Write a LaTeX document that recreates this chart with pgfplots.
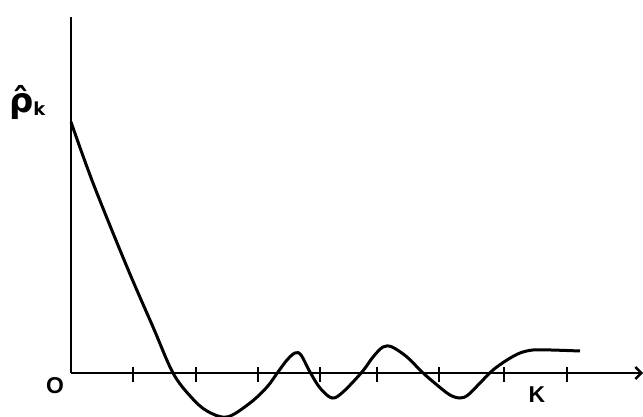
\documentclass[border=0pt]{standalone}
\usepackage{pgfplots}
\pgfplotsset{compat=1.18}
\usepackage{fontspec}
\setmainfont{Liberation Sans}
\newfontfamily\dejavu{DejaVu Sans}
\usetikzlibrary{arrows.meta}
\begin{document}
\begin{tikzpicture}
\useasboundingbox (0,0) rectangle (643bp,417bp);
\begin{axis}[
  at={(71bp,44bp)}, anchor=origin,
  scale only axis, width=572bp, height=400bp,
  xmin=0, xmax=572, ymin=-44, ymax=356,
  axis x line=middle, axis y line=none,
  axis line style={line width=2.8bp, -{Straight Barb[length=6bp,width=12bp,line width=2.4bp]}},
  xtick={62,125,187,249,306,368,433,496},
  xticklabels={},
  ytick=\empty,
  major tick length=15bp,
  xtick style={line width=2bp, black, yshift=-1.5bp},
  clip=false,
]
\addplot[black, line width=3bp, smooth, tension=0.55] coordinates {
 (0,251) (22,190) (56,106) (82,46) (102,0) (120,-24) (136,-38) (156,-44) (179,-30)
 (196,-14) (207,1) (216,13) (224,20) (230,18) (239,1) (249,-15) (261,-25) (272,-19)
 (291,1) (302,16) (312,26) (321,26) (336,16) (351,1) (366,-12) (379,-22) (389,-25) (397,-22) (409,-10)
 (422,3) (436,13) (449,20) (462,23) (480,23) (509,22)
};
\draw[line width=2.8bp] (axis cs:0,0) -- (axis cs:0,356);
\end{axis}
\node[font=\dejavu\bfseries\fontsize{34}{38}\selectfont, anchor=base west, inner sep=0pt] at (9bp,304bp) {ρ̂\raisebox{-3bp}{\fontsize{18}{21}\selectfont k}};
\node[font=\bfseries\fontsize{23}{27}\selectfont] at (55bp,31bp) {O};
\node[font=\bfseries\fontsize{23}{27}\selectfont] at (537bp,22bp) {K};
\end{tikzpicture}
\end{document}
